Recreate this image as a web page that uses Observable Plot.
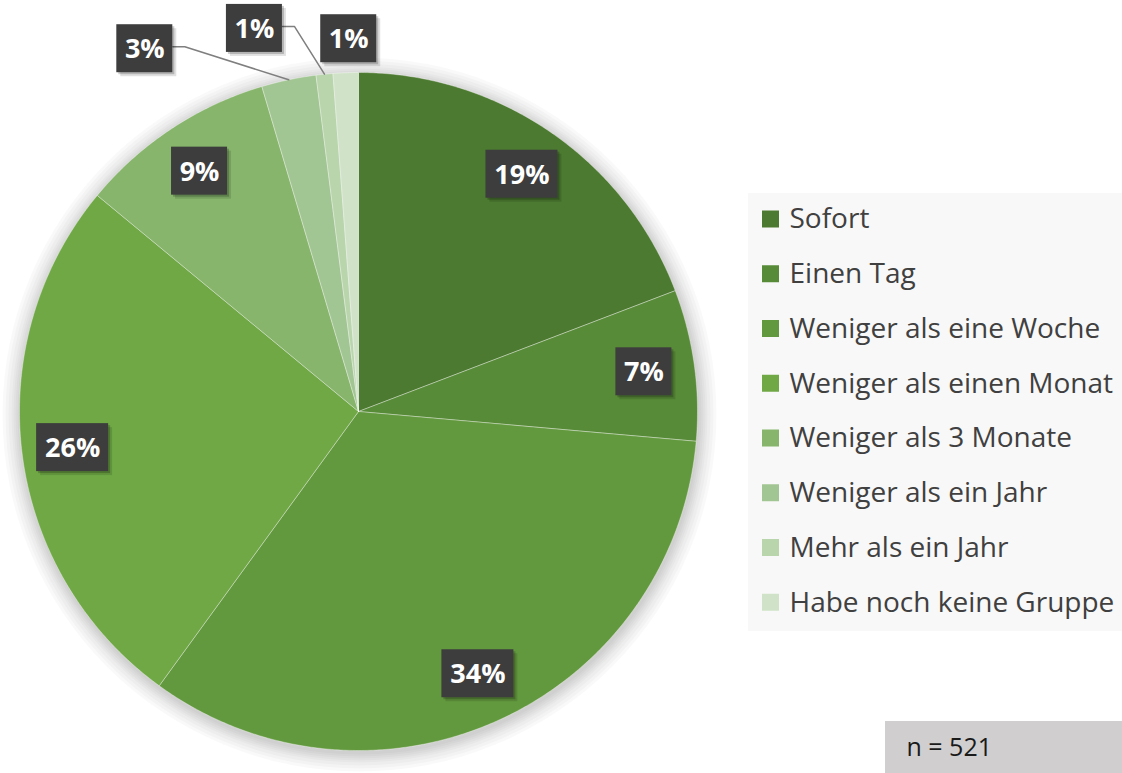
<!DOCTYPE html>
<html>
<head>
<meta charset="utf-8">
<script src="https://cdn.jsdelivr.net/npm/d3@7"></script>
<script src="https://cdn.jsdelivr.net/npm/@observablehq/plot@0.6"></script>
<style>
  html, body { margin: 0; padding: 0; background: #ffffff; }
  #chart { width: 1122px; height: 773px; overflow: hidden; }
</style>
</head>
<body>
<div id="chart"></div>
<script>
// ---------- data ----------
const categories = [
  "Sofort",
  "Einen Tag",
  "Weniger als eine Woche",
  "Weniger als einen Monat",
  "Weniger als 3 Monate",
  "Weniger als ein Jahr",
  "Mehr als ein Jahr",
  "Habe noch keine Gruppe"
];
const shares = [19.2, 7.2, 33.6, 26.0, 9.4, 2.6, 0.8, 1.2];   // percent
const colors = ["#4c7a30", "#588b38", "#63993e", "#6fa845", "#86b56b", "#a2c693", "#b8d5ac", "#d0e3c8"];
const sampleLabel = "n = 521";

// ---------- layout ----------
const W = 1122, H = 773;
const cx = 358, cy = 411, R = 339;
const FONT = "'Open Sans', 'DejaVu Sans', sans-serif";
const outside = {
  5: {deg: 329.5, rf: 1.242, leader: true},
  6: {deg: 344.8, rf: 1.171, leader: true},
  7: {deg: 358.5, rf: 1.10, leader: false}
};
const legend = {x1: 748, x2: 1122, y1: 193, y2: 631, rowTop: 219, rowStep: 54.75, sq: 17, sqX: 762, textX: 789};
const nBox = {x1: 885, x2: 1122, y1: 721, y2: 773, textX: 906};
const haloSteps = [18, 15, 12, 9, 7, 5, 3, 1];

// ---------- geometry from data ----------
const total = d3.sum(shares);
const polar = (a, r) => [cx + r * Math.sin(a), cy - r * Math.cos(a)];
let acc = 0;
const slices = categories.map((c, i) => {
  const a0 = acc / total * 2 * Math.PI;
  acc += shares[i];
  const a1 = acc / total * 2 * Math.PI;
  return {cat: c, i, a0, a1, mid: (a0 + a1) / 2, share: shares[i]};
});

const slicePts = [];
for (const s of slices) {
  slicePts.push({cat: s.cat, x: cx, y: cy});
  const n = Math.max(2, Math.ceil((s.a1 - s.a0) / (Math.PI / 360)));
  for (let k = 0; k <= n; k++) {
    const [x, y] = polar(s.a0 + (s.a1 - s.a0) * k / n, R);
    slicePts.push({cat: s.cat, x, y});
  }
  slicePts.push({cat: s.cat, x: cx, y: cy});
}

const labels = slices.map(s => {
  const o = outside[s.i];
  const [x, y] = o ? polar(o.deg * Math.PI / 180, o.rf * R) : polar(s.mid, 0.85 * R);
  const text = Math.round(s.share) + "%";
  const w = 16 * text.length + 24;
  return {cat: s.cat, i: s.i, x, y, text, w, h: 48, leader: o && o.leader, mid: s.mid};
});

const leaderPts = [];
for (const l of labels) {
  if (!l.leader) continue;
  const [ex, ey] = polar(l.mid, R);
  leaderPts.push({id: l.i, x: l.x + l.w / 2, y: l.y - 2});
  leaderPts.push({id: l.i, x: l.x + l.w / 2 + 12, y: l.y - 2});
  leaderPts.push({id: l.i, x: ex, y: ey});
}

const legendRows = categories.map((c, i) => ({cat: c, y: legend.rowTop + i * legend.rowStep}));
const halo = haloSteps.map(d => ({r: R + d}));

// ---------- plot ----------
const chart = Plot.plot({
  width: W,
  height: H,
  margin: 0,
  x: {domain: [0, W], range: [0, W], axis: null},
  y: {domain: [0, H], range: [0, H], axis: null},
  r: {type: "identity"},
  color: {domain: categories, range: colors},
  style: {background: "transparent"},
  marks: [
    // soft shadow halo around the pie
    Plot.dot(halo, {x: () => cx + 1, y: () => cy + 3, r: "r", fill: "#000000", fillOpacity: 0.022}),
    Plot.line(slicePts, {x: "x", y: "y", z: "cat", fill: "cat", stroke: "#ffffff", strokeOpacity: 0.35, strokeWidth: 1, curve: "linear"}),
    Plot.line(leaderPts, {x: "x", y: "y", z: "id", stroke: "#7f7f7f", strokeWidth: 1.5, curve: "linear"}),
    // label box shadows
    Plot.rect(labels, {x1: d => d.x - d.w / 2 + 4, x2: d => d.x + d.w / 2 + 4, y1: d => d.y - d.h / 2 + 4, y2: d => d.y + d.h / 2 + 4, fill: "#000000", fillOpacity: 0.12}),
    Plot.rect(labels, {x1: d => d.x - d.w / 2 + 2, x2: d => d.x + d.w / 2 + 2, y1: d => d.y - d.h / 2 + 2, y2: d => d.y + d.h / 2 + 2, fill: "#000000", fillOpacity: 0.2}),
    Plot.rect(labels, {x1: d => d.x - d.w / 2, x2: d => d.x + d.w / 2, y1: d => d.y - d.h / 2, y2: d => d.y + d.h / 2, fill: "#3d3d3d", ariaLabel: "label-box"}),
    Plot.text(labels, {x: "x", y: "y", text: "text", fill: "#ffffff", fontSize: 27, fontWeight: "bold", fontFamily: FONT, dy: 1}),
    Plot.rect([legend], {x1: "x1", x2: "x2", y1: "y1", y2: "y2", fill: "#f8f8f8"}),
    Plot.rect(legendRows, {x1: legend.sqX, x2: legend.sqX + legend.sq, y1: d => d.y - legend.sq / 2, y2: d => d.y + legend.sq / 2, fill: "cat"}),
    Plot.text(legendRows, {x: legend.textX, y: "y", text: "cat", textAnchor: "start", fill: "#404040", fontSize: 28, fontFamily: FONT}),
    Plot.rect([nBox], {x1: "x1", x2: "x2", y1: "y1", y2: "y2", fill: "#d0cece"}),
    Plot.text([sampleLabel], {x: nBox.textX, y: (nBox.y1 + nBox.y2) / 2, text: d => d, textAnchor: "start", fill: "#1a1a1a", fontSize: 25, fontFamily: FONT})
  ]
});

// dotted texture for the label boxes
const svg = d3.select(chart);
const defs = svg.insert("defs", ":first-child");
const pat = defs.append("pattern").attr("id", "dots").attr("width", 8).attr("height", 8).attr("patternUnits", "userSpaceOnUse");
pat.append("rect").attr("width", 8).attr("height", 8).attr("fill", "#3d3d3d");
pat.append("circle").attr("cx", 2).attr("cy", 2).attr("r", 1.1).attr("fill", "#4a4a4a");
pat.append("circle").attr("cx", 6).attr("cy", 6).attr("r", 1.1).attr("fill", "#4a4a4a");
svg.selectAll('g[aria-label="label-box"] rect').attr("fill", "url(#dots)");

document.getElementById("chart").appendChild(chart);
</script>
</body>
</html>
